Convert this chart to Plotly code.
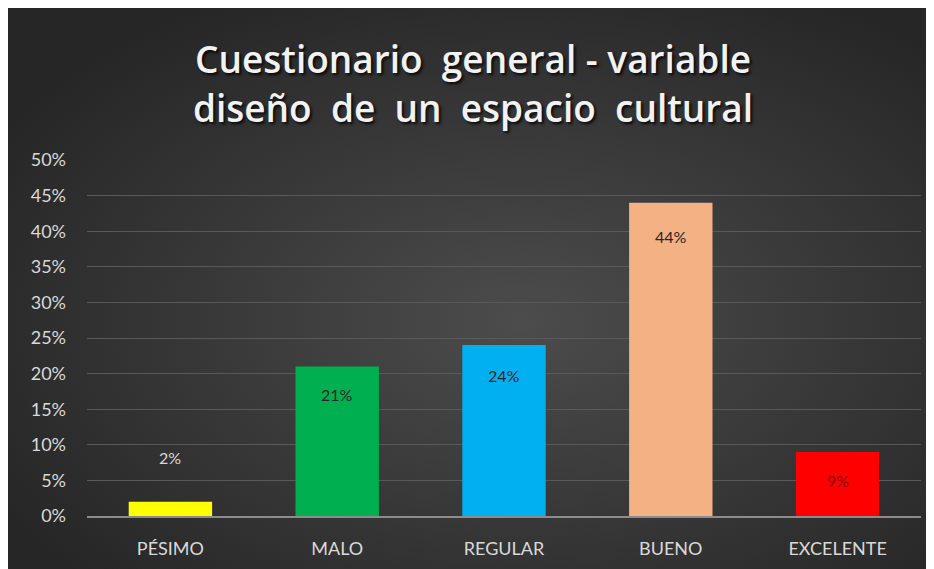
import base64
import plotly.graph_objects as go

categories = ["PÉSIMO", "MALO", "REGULAR", "BUENO", "EXCELENTE"]
values = [0.02, 0.21, 0.24, 0.44, 0.09]
labels = ["2%", "21%", "24%", "44%", "9%"]
bar_colors = ["#FFFF00", "#00B050", "#00B0F0", "#F4B183", "#FF0000"]
label_colors = ["#D9D9D9", "#262626", "#262626", "#262626", "#8B0000"]
label_shift = [44, -28, -30, -34, -29]
y_ticks = [0.0, 0.05, 0.10, 0.15, 0.20, 0.25, 0.30, 0.35, 0.40, 0.45, 0.50]

W, H = 934, 569
L, T = 79, 152
pw, ph = 834, 356
R, B = W - L - pw, H - T - ph

# dark radial background, as a stretched svg image
svg = """<svg xmlns='http://www.w3.org/2000/svg' width='934' height='569'>
<defs><radialGradient id='g' cx='55%' cy='55%' r='65%'>
<stop offset='0%' stop-color='#4c4c4c'/><stop offset='100%' stop-color='#262626'/>
</radialGradient></defs><rect width='934' height='569' fill='url(#g)'/></svg>"""
bg_src = "data:image/svg+xml;base64," + base64.b64encode(svg.encode()).decode()

fig = go.Figure()
fig.add_trace(go.Bar(
    x=categories, y=values, marker_color=bar_colors,
    marker_line_width=0, width=0.5, hoverinfo="skip",
))

for cat, v, lab, col, dy in zip(categories, values, labels, label_colors, label_shift):
    fig.add_annotation(x=cat, y=v, text=lab, showarrow=False, yshift=dy,
                       font=dict(family="Lato", size=16, color=col))

fig.add_layout_image(
    source=bg_src, xref="paper", yref="paper", layer="below",
    x=-L / pw, y=(H - B) / ph, sizex=W / pw, sizey=H / ph,
    xanchor="left", yanchor="top", sizing="stretch",
)

fig.update_layout(
    width=W, height=H,
    margin=dict(l=L, r=R, t=T, b=B),
    paper_bgcolor="#2e2e2e", plot_bgcolor="rgba(0,0,0,0)",
    showlegend=False, bargap=0.5,
    title=dict(
        text="Cuestionario  general - variable<br>diseño  de  un  espacio  cultural",
        x=465 / W, xanchor="center", y=0.885, yanchor="middle",
        font=dict(family="Open Sans", size=37, color="#F2F2F2", weight=600,
                  shadow="2px 2px 3px rgba(0,0,0,0.85)"),
    ),
    font=dict(family="Lato", color="#D9D9D9"),
)
fig.update_yaxes(
    range=[0, 0.5], tickvals=y_ticks, tickformat=".0%",
    gridcolor="#595959", gridwidth=1, zeroline=False, showline=False,
    tickfont=dict(size=18, color="#D9D9D9"), ticks="", ticklabelstandoff=20,
)
fig.update_xaxes(
    showline=True, linecolor="#8C8C8C", linewidth=1.5, showgrid=False,
    tickfont=dict(size=18, color="#D9D9D9"), ticks="", ticklabelstandoff=16,
)

fig.write_html("out.html")
